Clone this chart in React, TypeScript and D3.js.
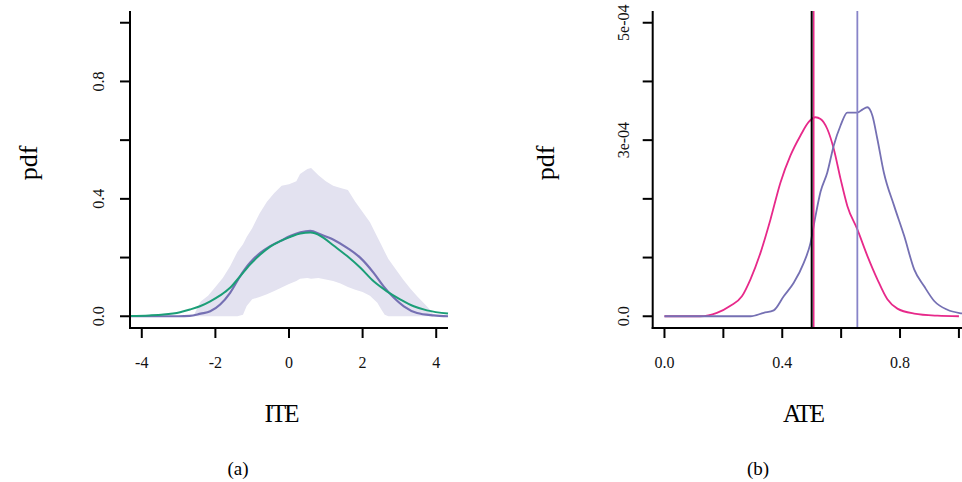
import React from "react"
import * as d3 from "d3"

// panel (a): ITE densities
const iteX = [-4.32, -3.8, -3.41, -3.0, -2.7, -2.4, -2.14, -1.87, -1.6, -1.33, -1.06, -0.78, -0.51, -0.24, 0.03, 0.31, 0.58, 0.85, 1.21, 1.58, 1.94, 2.3, 2.57, 2.85, 3.12, 3.48, 3.93, 4.32]
const itePurple = [0, 0, 0, 0, 0.001, 0.009, 0.017, 0.04, 0.08, 0.136, 0.182, 0.216, 0.239, 0.256, 0.273, 0.286, 0.291, 0.279, 0.261, 0.233, 0.199, 0.148, 0.102, 0.063, 0.034, 0.011, 0.003, 0]
const iteGreenX = [-4.32, -3.8, -3.41, -2.96, -2.69, -2.42, -2.14, -1.87, -1.6, -1.33, -1.06, -0.78, -0.51, -0.24, 0.03, 0.31, 0.58, 0.7, 0.94, 1.21, 1.58, 1.94, 2.3, 2.66, 3.03, 3.39, 3.75, 4.32]
const iteGreen = [0.001, 0.003, 0.006, 0.014, 0.023, 0.034, 0.051, 0.071, 0.097, 0.136, 0.176, 0.21, 0.237, 0.256, 0.27, 0.282, 0.285, 0.283, 0.267, 0.241, 0.205, 0.165, 0.119, 0.085, 0.057, 0.034, 0.02, 0.009]
const bandX = [-2.6, -2.4, -2.2, -2.0, -1.8, -1.6, -1.4, -1.25, -1.15, -1.0, -0.8, -0.6, -0.4, -0.2, 0.0, 0.2, 0.3, 0.5, 0.6, 0.8, 1.0, 1.2, 1.4, 1.6, 1.8, 2.0, 2.2, 2.4, 2.5, 2.6, 2.7, 2.9, 3.1, 3.3, 3.5, 3.7, 3.85, 3.95]
const bandHi = [0, 0.05, 0.07, 0.1, 0.13, 0.17, 0.22, 0.245, 0.27, 0.3, 0.35, 0.39, 0.42, 0.445, 0.45, 0.46, 0.485, 0.502, 0.505, 0.48, 0.46, 0.445, 0.437, 0.43, 0.39, 0.355, 0.32, 0.27, 0.245, 0.22, 0.195, 0.16, 0.125, 0.094, 0.066, 0.04, 0.02, 0]
const bandLo = [0, 0, 0, 0, 0, 0, 0, 0.005, 0.035, 0.058, 0.066, 0.075, 0.086, 0.098, 0.11, 0.12, 0.128, 0.13, 0.128, 0.13, 0.125, 0.12, 0.112, 0.1, 0.09, 0.083, 0.07, 0.046, 0.025, 0.005, 0, 0, 0, 0, 0, 0, 0, 0]
const iteTicks = [-4, -2, 0, 2, 4]
const pdfTicksA = [0, 0.2, 0.4, 0.6, 0.8, 1.0]
const pdfLabelsA = ["0.0", "", "0.4", "", "0.8", ""]

// panel (b): ATE densities
const atePinkX = [0, 0.121, 0.178, 0.224, 0.263, 0.292, 0.326, 0.36, 0.394, 0.428, 0.462, 0.49, 0.513, 0.53, 0.553, 0.575, 0.598, 0.621, 0.655, 0.689, 0.723, 0.757, 0.791, 0.848, 0.927, 1.0]
const atePink = [0, 0, 0.058, 0.18, 0.34, 0.63, 1.08, 1.65, 2.28, 2.74, 3.08, 3.31, 3.39, 3.36, 3.19, 2.85, 2.34, 1.88, 1.48, 1.03, 0.63, 0.29, 0.13, 0.046, 0.01, 0].map((v) => v * 1e-4)
const atePurpleX = [0, 0.121, 0.292, 0.337, 0.371, 0.405, 0.439, 0.473, 0.496, 0.513, 0.53, 0.553, 0.575, 0.598, 0.621, 0.655, 0.672, 0.689, 0.706, 0.723, 0.745, 0.78, 0.814, 0.848, 0.882, 0.916, 0.961, 1.013, 1.05]
const atePurple = [0, 0, 0, 0.058, 0.1, 0.34, 0.57, 0.91, 1.25, 1.71, 2.12, 2.45, 2.91, 3.25, 3.47, 3.47, 3.52, 3.56, 3.42, 3.02, 2.45, 1.88, 1.37, 0.8, 0.51, 0.26, 0.11, 0.046, 0.02].map((v) => v * 1e-4)
const vTruth = 0.5
const vPink = 0.507
const vPurple = 0.655
const ateTicks = [0, 0.2, 0.4, 0.6, 0.8, 1.0]
const ateLabels = ["0.0", "", "0.4", "", "0.8", ""]
const pdfTicksB = [0, 1e-4, 2e-4, 3e-4, 4e-4, 5e-4]
const pdfLabelsB = ["0.0", "", "", "3e-04", "", "5e-04"]

const PURPLE = "#7570B3"
const GREEN = "#1B9E77"
const PINK = "#E7298A"
const FONT = "'Liberation Serif', 'DejaVu Serif', serif"

const TOP = 11
const BOTTOM = 328

type AxisProps = {
  x: d3.ScaleLinear<number, number>
  y: d3.ScaleLinear<number, number>
  xTicks: number[]
  xLabels: string[]
  yTicks: number[]
  yLabels: string[]
  yLabelX: number
}

function Axes({ x, y, xTicks, xLabels, yTicks, yLabels, yLabelX }: AxisProps) {
  const [x0, x1] = x.range()
  return (
    <g stroke="#000" strokeWidth={2} fill="none">
      <line x1={x0} x2={x0} y1={TOP} y2={BOTTOM + 1} />
      <line x1={x0 - 1} x2={x1} y1={BOTTOM} y2={BOTTOM} />
      {xTicks.map((t) => (
        <line key={"xt" + t} x1={x(t)} x2={x(t)} y1={BOTTOM} y2={BOTTOM + 10} />
      ))}
      {yTicks.map((t) => (
        <line key={"yt" + t} x1={x0 - 10} x2={x0} y1={y(t)} y2={y(t)} />
      ))}
      {xTicks.map((t, i) =>
        xLabels[i] ? (
          <text key={"xl" + t} x={x(t)} y={368} stroke="none" fill="#111" fontSize={16} textAnchor="middle" style={{ fontFamily: FONT }}>
            {xLabels[i]}
          </text>
        ) : null,
      )}
      {yTicks.map((t, i) =>
        yLabels[i] ? (
          <text
            key={"yl" + t}
            transform={`translate(${yLabelX},${y(t)}) rotate(-90)`}
            stroke="none"
            fill="#111"
            fontSize={16}
            textAnchor="middle"
            dominantBaseline="central"
            style={{ fontFamily: FONT }}
          >
            {yLabels[i]}
          </text>
        ) : null,
      )}
    </g>
  )
}

export default function App() {
  // panel (a) scales
  const xa = d3.scaleLinear().domain([-4.32, 4.32]).range([130, 448])
  const ya = d3.scaleLinear().domain([-0.04, 1.04]).range([BOTTOM, TOP])
  // panel (b) scales
  const xb = d3.scaleLinear().domain([-0.04, 1.04]).range([652.7, 970.7])
  const yb = d3.scaleLinear().domain([-0.2e-4, 5.2e-4]).range([BOTTOM, TOP])

  const lineA = d3
    .line<[number, number]>()
    .x((d) => xa(d[0]))
    .y((d) => ya(d[1]))
    .curve(d3.curveMonotoneX)
  const area = d3
    .area<number>()
    .x((_, i) => xa(bandX[i]))
    .y0((_, i) => ya(bandLo[i]))
    .y1((_, i) => ya(bandHi[i]))
    .curve(d3.curveLinear)
  const lineB = d3
    .line<[number, number]>()
    .x((d) => xb(d[0]))
    .y((d) => yb(d[1]))
    .curve(d3.curveMonotoneX)

  const purpleA = lineA(iteX.map((v, i) => [v, itePurple[i]]) as [number, number][])
  const greenA = lineA(iteGreenX.map((v, i) => [v, iteGreen[i]]) as [number, number][])
  const pinkB = lineB(atePinkX.map((v, i) => [v, atePink[i]]) as [number, number][])
  const purpleB = lineB(atePurpleX.map((v, i) => [v, atePurple[i]]) as [number, number][])

  const titleStyle = { fontFamily: FONT, fontSize: 25, letterSpacing: -2 }

  return (
    <svg
      width={962}
      height={482}
      style={{ position: "absolute", left: 0, top: 0, background: "#fff", fontFamily: FONT }}
    >
      {/* panel (a) */}
      <path d={area(bandX) || ""} fill="#E3E2F0" />
      <path d={purpleA || ""} fill="none" stroke={PURPLE} strokeWidth={2.2} />
      <path d={greenA || ""} fill="none" stroke={GREEN} strokeWidth={2} />
      <Axes x={xa} y={ya} xTicks={iteTicks} xLabels={iteTicks.map(String)} yTicks={pdfTicksA} yLabels={pdfLabelsA} yLabelX={98} />
      <text x={281} y={422} textAnchor="middle" style={titleStyle}>ITE</text>
      <text transform="translate(28,163) rotate(-90)" textAnchor="middle" dominantBaseline="central" style={{ fontFamily: FONT, fontSize: 26 }}>pdf</text>
      <text x={238} y={475} textAnchor="middle" style={{ fontFamily: FONT, fontSize: 19 }}>(a)</text>

      {/* panel (b) */}
      <path d={pinkB || ""} fill="none" stroke={PINK} strokeWidth={1.8} />
      <path d={purpleB || ""} fill="none" stroke={PURPLE} strokeWidth={1.8} />
      <line x1={xb(vPurple)} x2={xb(vPurple)} y1={TOP} y2={BOTTOM} stroke="#8884C8" strokeWidth={1.8} />
      <line x1={xb(vTruth)} x2={xb(vTruth)} y1={TOP} y2={BOTTOM} stroke="#000" strokeWidth={2} />
      <line x1={xb(vPink)} x2={xb(vPink)} y1={TOP} y2={BOTTOM} stroke={PINK} strokeWidth={1.5} />
      <Axes x={xb} y={yb} xTicks={ateTicks} xLabels={ateLabels} yTicks={pdfTicksB} yLabels={pdfLabelsB} yLabelX={623} />
      <text x={803} y={422} textAnchor="middle" style={titleStyle}>ATE</text>
      <text transform="translate(545,163) rotate(-90)" textAnchor="middle" dominantBaseline="central" style={{ fontFamily: FONT, fontSize: 26 }}>pdf</text>
      <text x={758} y={475} textAnchor="middle" style={{ fontFamily: FONT, fontSize: 19 }}>(b)</text>
    </svg>
  )
}
